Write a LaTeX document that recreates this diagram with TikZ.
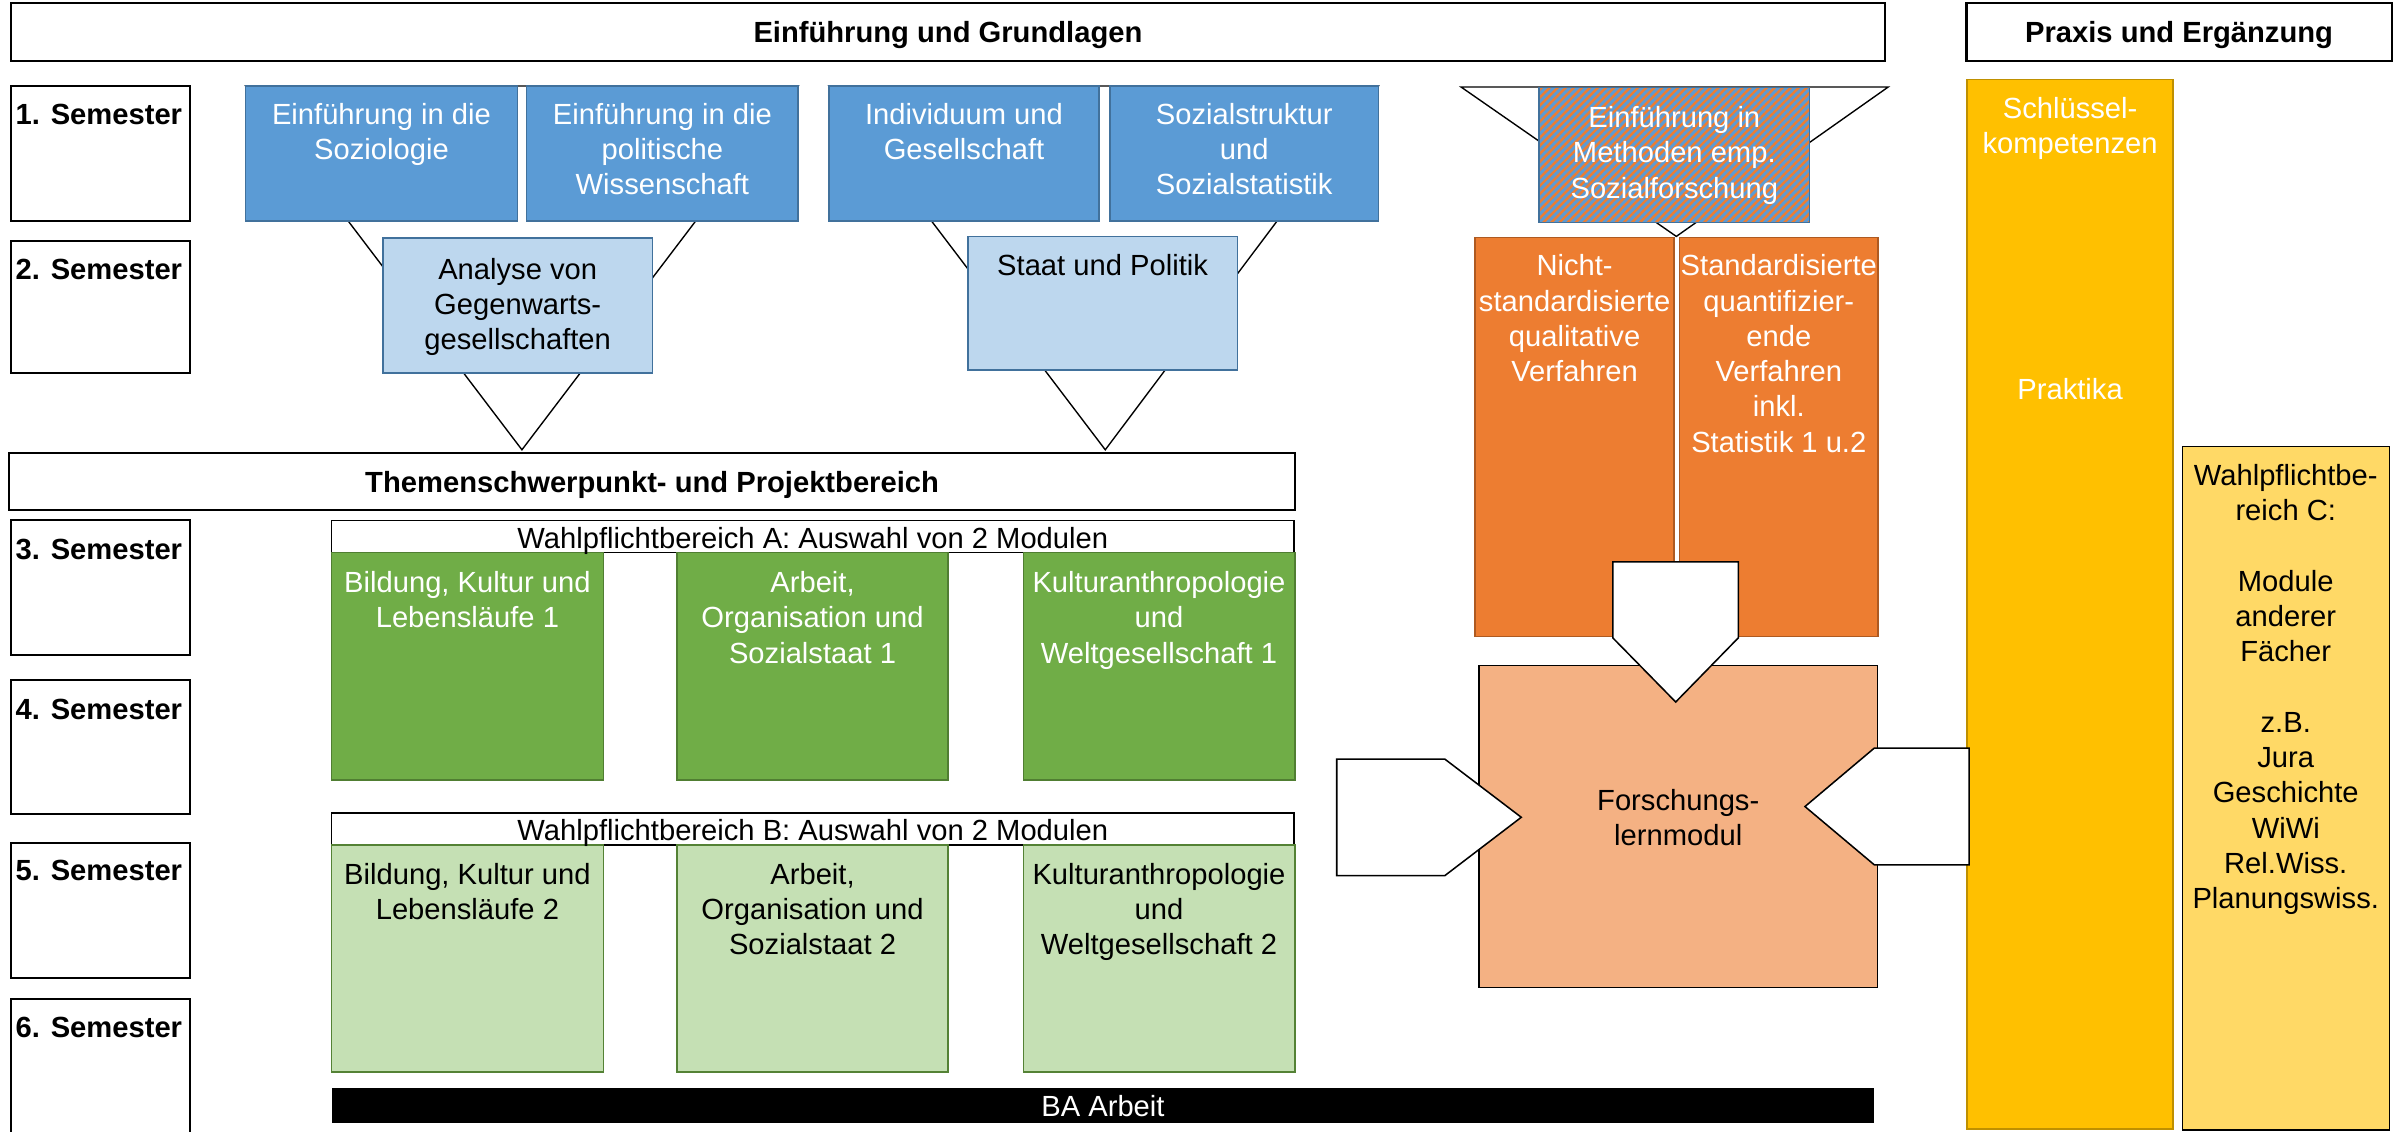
\documentclass[tikz,border=0pt]{standalone}
\usepackage{fontspec}
\setmainfont{Liberation Sans}
\usetikzlibrary{fit,patterns.meta}
\definecolor{bluF}{HTML}{5B9BD5}
\definecolor{bluB}{HTML}{41719C}
\definecolor{lbluF}{HTML}{BDD7EE}
\definecolor{oraF}{HTML}{ED7D31}
\definecolor{oraB}{HTML}{AE5A21}
\definecolor{peachF}{HTML}{F4B183}
\definecolor{grnF}{HTML}{70AD47}
\definecolor{grnB}{HTML}{507E32}
\definecolor{lgrnF}{HTML}{C5E0B4}
\definecolor{lgrnB}{HTML}{548235}
\definecolor{yelF}{HTML}{FFC000}
\definecolor{yelB}{HTML}{BF9000}
\definecolor{lyelF}{HTML}{FFD966}
\newcommand\bx[6]{\node[#2, fit={(#3,#4) (#5,#6)}, inner sep=0pt] (#1) {};}
\newcommand\tx[5]{\node[#2] (#1) at (#3,#4) {\begin{tabular}[t]{@{}c@{}}#5\end{tabular}};}
\tikzset{
 hdr/.style={draw=black, line width=1.4pt, fill=white},
 sembox/.style={draw=black, line width=1.3pt, fill=white},
 wpfbox/.style={draw=black, line width=1pt, fill=white},
 bbox/.style={draw=bluB, line width=1pt, fill=bluF},
 lbbox/.style={draw=bluB, line width=1pt, fill=lbluF},
 hbox/.style={preaction={fill=bluF}, preaction={pattern={Lines[angle=45,distance=3.7pt,line width=1.6pt]}, pattern color=oraF}, draw=bluB, line width=1pt},
 obox/.style={draw=oraB, line width=1pt, fill=oraF},
 pbox/.style={draw=black, line width=0.9pt, fill=peachF},
 gbox/.style={draw=grnB, line width=1pt, fill=grnF},
 lgbox/.style={draw=lgrnB, line width=1pt, fill=lgrnF},
 ybox/.style={draw=yelB, line width=1pt, fill=yelF},
 lybox/.style={draw=black, line width=1pt, fill=lyelF},
 babox/.style={fill=black},
 funnel/.style={draw=black, line width=0.9pt, fill=white},
 pent/.style={draw=black, line width=1pt, fill=white},
 txt/.style={inner sep=0pt, anchor=base, font=\fontsize{19}{23}\selectfont},
 txtw/.style={txt, text=white},
 txtb/.style={txt, font=\bfseries\fontsize{19}{23}\selectfont},
}
\begin{document}
\begin{tikzpicture}[x=1pt,y=-1pt]
\useasboundingbox (0,0) rectangle (1568,737);
% funnel apex coordinates
\coordinate (f1a) at (160,56);
\coordinate (f1b) at (520,56);
\coordinate (f1c) at (340,293);
\coordinate (f2a) at (540,56);
\coordinate (f2b) at (898,56);
\coordinate (f2c) at (720,293);
\coordinate (f3a) at (951.8,56.7);
\coordinate (f3b) at (1230,56.7);
\coordinate (f3c) at (1092,154);
\draw[funnel] (f1a) -- (f1b) -- (f1c) -- cycle;
\draw[funnel] (f2a) -- (f2b) -- (f2c) -- cycle;
\draw[funnel] (f3a) -- (f3b) -- (f3c) -- cycle;
% headers
\bx{hA}{hdr}{7}{2}{1228}{40}
\bx{hB}{hdr}{1281}{2}{1558}{40}
% semesters
\bx{s1}{sembox}{7}{56}{124}{144}
\bx{s2}{sembox}{7}{157}{124}{243}
\bx{s3}{sembox}{7}{339}{124}{427}
\bx{s4}{sembox}{7}{443}{124}{530}
\bx{s5}{sembox}{7}{549}{124}{637}
\bx{s6}{sembox}{7}{651}{124}{760}
% first semester blue
\bx{soz}{bbox}{160}{56}{337}{144}
\bx{polw}{bbox}{343}{56}{520}{144}
\bx{ind}{bbox}{540}{56}{716}{144}
\bx{sozs}{bbox}{723}{56}{898}{144}
% second semester
\bx{ana}{lbbox}{249.5}{155}{425}{243}
\bx{staat}{lbbox}{630.5}{154}{806}{241}
% methods
\bx{meth}{hbox}{1002.6}{57}{1178.8}{145}
\bx{ora1}{obox}{961}{154.6}{1090.5}{414.5}
\bx{ora2}{obox}{1094}{154.6}{1223.5}{414.5}
\bx{fors}{pbox}{963.5}{433.7}{1223}{643.2}
% Themenschwerpunkt
\bx{thema}{hdr}{6}{295}{843.6}{332.4}
\bx{wpfA}{wpfbox}{216}{339}{843}{360}
\bx{gA1}{gbox}{216}{360}{393}{508}
\bx{gA2}{gbox}{441}{360}{617.6}{508}
\bx{gA3}{gbox}{666.6}{360}{843.5}{508}
\bx{wpfB}{wpfbox}{216}{529.7}{843}{550.5}
\bx{gB1}{lgbox}{216}{550.5}{393}{698.4}
\bx{gB2}{lgbox}{441}{550.5}{617.6}{698.4}
\bx{gB3}{lgbox}{666.6}{550.5}{843.5}{698.4}
\bx{ba}{babox}{216}{708.8}{1221}{731.4}
% yellow
\bx{prax}{ybox}{1281.5}{51.7}{1415.6}{735.5}
\bx{wpfC}{lybox}{1421.8}{291}{1556.5}{736}
% pentagon arrows
\draw[pent] (1050.6,366) -- (1132.4,366) -- (1132.4,415.5) -- (1091.6,457.3) -- (1050.6,415.5) -- cycle;
\draw[pent] (870.8,494.5) -- (941.2,494.5) -- (991,532.4) -- (941.2,570.4) -- (870.8,570.4) -- cycle;
\draw[pent] (1282.8,487.3) -- (1282.8,563.4) -- (1221,563.4) -- (1175.8,525.4) -- (1221,487.3) -- cycle;
% texts
\tx{thA}{txtb}{617.5}{28}{Einführung und Grundlagen}
\tx{thB}{txtb}{1419.5}{28}{Praxis und Ergänzung}
\tx{ts1}{txtb, anchor=base west}{10}{81}{1. Semester}
\tx{ts2}{txtb, anchor=base west}{10}{182}{2. Semester}
\tx{ts3}{txtb, anchor=base west}{10}{364.5}{3. Semester}
\tx{ts4}{txtb, anchor=base west}{10}{468.5}{4. Semester}
\tx{ts5}{txtb, anchor=base west}{10}{573.5}{5. Semester}
\tx{ts6}{txtb, anchor=base west}{10}{676}{6. Semester}
\tx{tsoz}{txtw}{248.5}{81}{Einführung in die\\Soziologie}
\tx{tpolw}{txtw}{431.5}{81}{Einführung in die\\politische\\Wissenschaft}
\tx{tind}{txtw}{628}{81}{Individuum und\\Gesellschaft}
\tx{tsozs}{txtw}{810.5}{81}{Sozialstruktur\\und\\Sozialstatistik}
\tx{tana}{txt}{337.25}{181.8}{Analyse von\\Gegenwarts-\\gesellschaften}
\tx{tstaat}{txt}{718.25}{179.6}{Staat und Politik}
\tx{tmeth}{txtw}{1090.7}{83}{Einführung in\\Methoden emp.\\Sozialforschung}
\tx{tora1}{txtw}{1025.75}{179.6}{Nicht-\\standardisierte\\qualitative\\Verfahren}
\tx{tora2}{txtw}{1158.75}{179.6}{Standardisierte\\quantifizier-\\ende\\Verfahren\\inkl.\\Statistik 1 u.2}
\tx{tprax1}{txtw}{1348.5}{77}{Schlüssel-\\kompetenzen}
\tx{tprax2}{txtw}{1348.5}{260}{Praktika}
\tx{twpfC}{txt}{1489}{316}{Wahlpflichtbe-\\reich C:\\{}\\Module\\anderer\\Fächer\\{}\\z.B.\\Jura\\Geschichte\\WiWi\\Rel.Wiss.\\Planungswiss.}
\tx{tthema}{txtb}{424.8}{320.5}{Themenschwerpunkt- und Projektbereich}
\tx{twpfA}{txt}{529.5}{357}{Wahlpflichtbereich A: Auswahl von 2 Modulen}
\tx{twpfB}{txt}{529.5}{547.5}{Wahlpflichtbereich B: Auswahl von 2 Modulen}
\tx{tgA1}{txtw}{304.5}{386}{Bildung, Kultur und\\Lebensläufe 1}
\tx{tgA2}{txtw}{529.3}{386}{Arbeit,\\Organisation und\\Sozialstaat 1}
\tx{tgA3}{txtw}{755}{386}{Kulturanthropologie\\und\\Weltgesellschaft 1}
\tx{tgB1}{txt}{304.5}{576}{Bildung, Kultur und\\Lebensläufe 2}
\tx{tgB2}{txt}{529.3}{576}{Arbeit,\\Organisation und\\Sozialstaat 2}
\tx{tgB3}{txt}{755}{576}{Kulturanthropologie\\und\\Weltgesellschaft 2}
\tx{tfors}{txt}{1093.25}{528}{Forschungs-\\lernmodul}
\tx{tba}{txtw}{718.5}{727}{BA Arbeit}
\end{tikzpicture}
\end{document}
